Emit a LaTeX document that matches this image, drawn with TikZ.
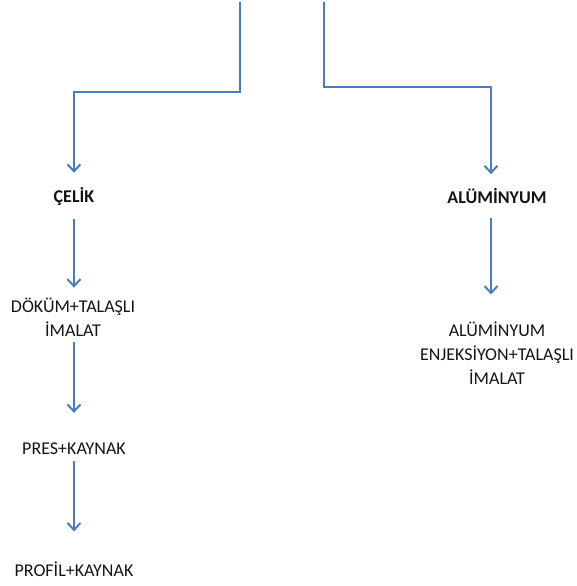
\documentclass[tikz,border=0pt]{standalone}
\usepackage{fontspec}
\setmainfont{Carlito}
\usetikzlibrary{arrows.meta}
\definecolor{flowblue}{RGB}{74,126,187}
\definecolor{txt}{RGB}{20,20,20}

\begin{document}
\begin{tikzpicture}[x=1pt, y=-1pt,
  lbl/.style={inner sep=0pt, align=center, text=txt, font=\fontsize{18}{24}\selectfont},
  flow/.style={draw=flowblue, line width=2pt, -{Straight Barb[length=7pt,width=13pt]}}]
\useasboundingbox (0,0) rectangle (577,586);
\coordinate (LS) at (240,2);
\coordinate (RS) at (324,2);
\coordinate (LK) at (74,92);
\coordinate (RK) at (491,87);
\node[lbl] (Celik) at (74,196) {\bfseries ÇELİK};
\node[lbl] (Alum) at (497,196) {\bfseries ALÜMİNYUM};
\node[lbl] (Dokum) at (73,317) {DÖKÜM+TALAŞLI\\İMALAT};
\node[lbl] (Enj) at (497,353) {ALÜMİNYUM\\ENJEKSİYON+TALAŞLI\\İMALAT};
\node[lbl] (Pres) at (74,449) {PRES+KAYNAK};
\node[lbl] (Profil) at (74,569) {PROFİL+KAYNAK};
\draw[flow, shorten >=14pt] (LS) |- (LK) -- (LK |- Celik.north);
\draw[flow, shorten >=14pt] (RS) |- (RK) -- (RK |- Alum.north);
\draw[flow, shorten <=14pt, shorten >=10pt] (Celik.south -| LK) -- (Dokum.north -| LK);
\draw[flow, shorten <=14pt, shorten >=27pt] (Alum.south -| RK) -- (Enj.north -| RK);
\draw[flow, shorten <=6pt, shorten >=30pt] (Dokum.south -| LK) -- (Pres.north -| LK);
\draw[flow, shorten <=6pt, shorten >=30pt] (Pres.south -| LK) -- (Profil.north -| LK);
\end{tikzpicture}
\end{document}
